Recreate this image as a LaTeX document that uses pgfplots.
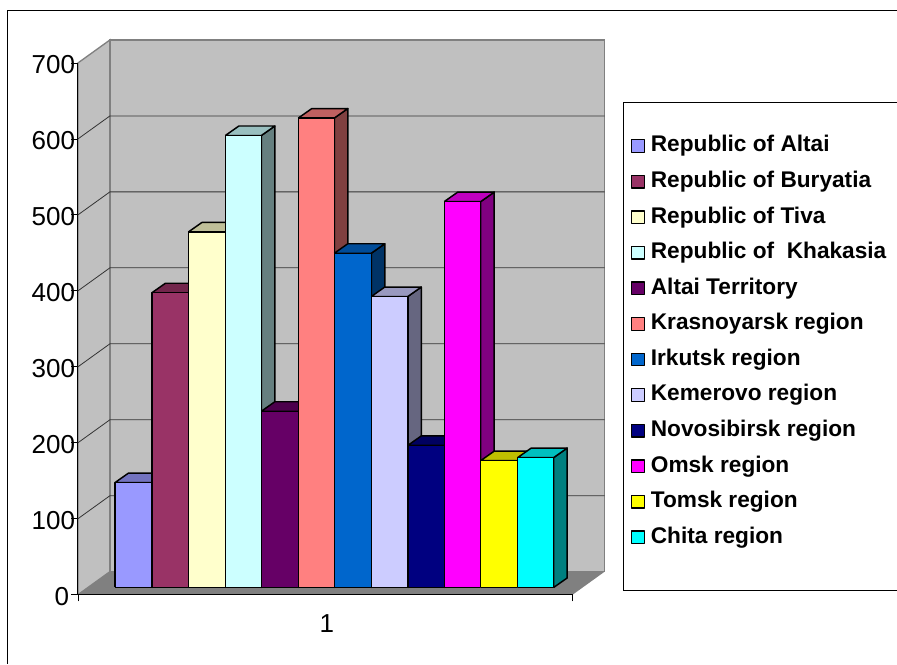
\documentclass[border=0pt]{standalone}
\usepackage{fontspec}
\setmainfont{Liberation Sans}
\usepackage{pgfplots}
\pgfplotsset{compat=1.18}

\definecolor{barA}{HTML}{9999FF}
\definecolor{barB}{HTML}{993366}
\definecolor{barC}{HTML}{FFFFCC}
\definecolor{barD}{HTML}{CCFFFF}
\definecolor{barE}{HTML}{660066}
\definecolor{barF}{HTML}{FF8080}
\definecolor{barG}{HTML}{0066CC}
\definecolor{barH}{HTML}{CCCCFF}
\definecolor{barI}{HTML}{000080}
\definecolor{barJ}{HTML}{FF00FF}
\definecolor{barK}{HTML}{FFFF00}
\definecolor{barL}{HTML}{00FFFF}
\definecolor{wall}{HTML}{C0C0C0}
\definecolor{floorgray}{HTML}{808080}

% one 3D column: left edge, right edge, value, colour, legend text
\newcommand{\column}[5]{%
  \pgfmathsetmacro{\ybase}{9.5}%
  \pgfmathsetmacro{\ytop}{#3+9.5}%
  \pgfmathsetmacro{\xbk}{#2+13.5}%
  \pgfmathsetmacro{\xlb}{#1+13.5}%
  \pgfmathsetmacro{\ybb}{9.5+12.5}%
  \pgfmathsetmacro{\ytb}{#3+9.5+12.5}%
  \edef\temp{\noexpand\addplot[forget plot,draw=black,line width=1.1pt,line join=round,fill=#4!50!black]
    coordinates {(#2,\ybase)(\xbk,\ybb)(\xbk,\ytb)(#2,\ytop)(#2,\ybase)};
    \noexpand\addplot[forget plot,draw=black,line width=1.1pt,line join=round,fill=#4!75!black]
    coordinates {(#1,\ytop)(\xlb,\ytb)(\xbk,\ytb)(#2,\ytop)(#1,\ytop)};
    \noexpand\addplot[draw=black,line width=1.1pt,line join=round,fill=#4]
    coordinates {(#1,\ybase)(#2,\ybase)(#2,\ytop)(#1,\ytop)(#1,\ybase)};}%
  \temp
  \addlegendentry{#5}%
}

\begin{document}
\begin{tikzpicture}
\begin{axis}[
  scale only axis,
  width=371.25pt, height=399pt,
  xmin=78, xmax=573,
  ymin=0, ymax=700,
  clip=false,
  axis x line=bottom,
  axis y line=left,
  axis line style={-,black,line width=0.8pt},
  tick style={black,line width=0.6pt},
  major tick length=5pt,
  tick align=outside,
  xtick={78,573},
  xticklabels={,},
  extra x ticks={327},
  extra x tick labels={1},
  extra x tick style={major tick length=0pt,tick label style={yshift=-14.5pt}},
  ytick={0,100,200,300,400,500,600,700},
  yticklabels={0\kern4.5pt,100,200,300,400,500,600,700},
  /pgf/number format/assume math mode=true,
  tick label style={font=\fontsize{19.5}{20}\selectfont,inner sep=0pt},
  yticklabel style={anchor=east,xshift=3pt,yshift=-1.5pt},
  legend cell align=left,
  legend style={
    at={(axis cs:631.5,604)},anchor=north west,
    draw=none,fill=none,inner sep=0pt,outer sep=0pt,
    font=\fontsize{17}{18}\bfseries\selectfont,
    nodes={inner sep=0pt,text height=12pt,text depth=14.7pt},
    column sep=4.3pt,
  },
  legend image code/.code={
    \draw[#1,line width=1pt] (0pt,1pt) rectangle (9.5pt,10.5pt);
  },
]
% chart frame and legend box
\addplot[forget plot,black,line width=0.75pt] coordinates {(8,-90.8)(8,769.7)(897,769.7)};
\addplot[forget plot,black,line width=0.75pt] coordinates {(897,648)(623.5,648)(623.5,5.3)(897,5.3)};
\path (axis cs:0,-90.8) rectangle (axis cs:897,782.9);

% walls and floor
\addplot[forget plot,draw=floorgray,line width=1pt,fill=wall] coordinates {(78,0)(110,30.3)(110,730.3)(78,700)(78,0)};
\addplot[forget plot,draw=floorgray,line width=1pt,fill=wall] coordinates {(110,30.3)(605,30.3)(605,730.3)(110,730.3)(110,30.3)};
\addplot[forget plot,draw=none,fill=floorgray] coordinates {(78,0)(573,0)(605,30.3)(110,30.3)(78,0)};
\addplot[forget plot,black,line width=0.8pt] coordinates {(78,700)(78,0)(573,0)};

% gridlines on the side and back wall
\addplot[forget plot,black!80,line width=0.6pt] coordinates {(78,100)(110,130.3)(605,130.3)};
\addplot[forget plot,black!80,line width=0.6pt] coordinates {(78,200)(110,230.3)(605,230.3)};
\addplot[forget plot,black!80,line width=0.6pt] coordinates {(78,300)(110,330.3)(605,330.3)};
\addplot[forget plot,black!80,line width=0.6pt] coordinates {(78,400)(110,430.3)(605,430.3)};
\addplot[forget plot,black!80,line width=0.6pt] coordinates {(78,500)(110,530.3)(605,530.3)};
\addplot[forget plot,black!80,line width=0.6pt] coordinates {(78,600)(110,630.3)(605,630.3)};

\column{115}{152}{138}{barA}{Republic of Altai}
\column{152}{188.5}{388}{barB}{Republic of Buryatia}
\column{188.5}{225.5}{468}{barC}{Republic of Tiva}
\column{225.5}{261.5}{595}{barD}{Republic of\ \ Khakasia}
\column{261.5}{298.5}{232}{barE}{Altai Territory}
\column{298.5}{334.5}{618}{barF}{Krasnoyarsk region}
\column{334.5}{371.5}{440}{barG}{Irkutsk region}
\column{371.5}{408}{383}{barH}{Kemerovo region}
\column{408}{444.5}{187}{barI}{Novosibirsk region}
\column{444.5}{481}{508}{barJ}{Omsk region}
\column{481}{518}{167}{barK}{Tomsk region}
\column{518}{554}{171}{barL}{Chita region}
\end{axis}
\end{tikzpicture}
\end{document}
